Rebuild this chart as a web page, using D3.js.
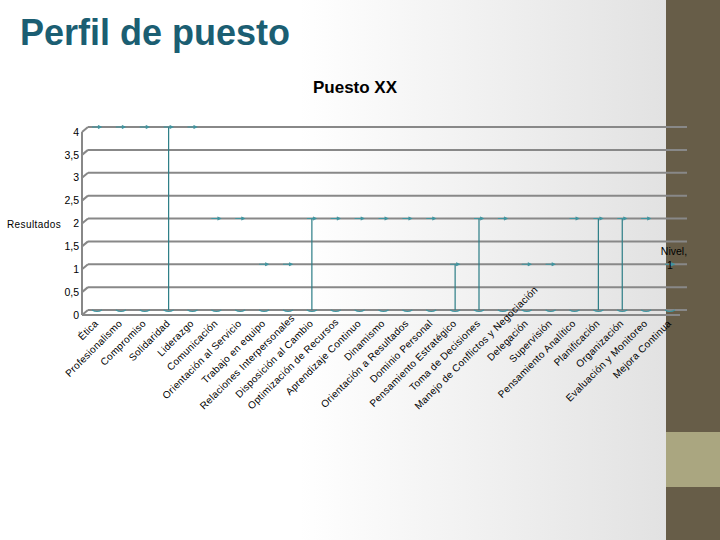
<!DOCTYPE html>
<html>
<head>
<meta charset="utf-8">
<script src="https://cdn.jsdelivr.net/npm/d3@7"></script>
<style>
  body { margin: 0; }
  svg { display: block; font-family: Arial, "Liberation Sans", sans-serif; }
</style>
</head>
<body>
<div id="chart"></div>
<script>
// Data
const categories = [
    'Ética', 'Profesionalismo', 'Compromiso', 'Solidaridad', 'Liderazgo',
    'Comunicación', 'Orientación al Servicio', 'Trabajo en equipo',
    'Relaciones Interpersonales', 'Disposición al Cambio', 'Optimización de Recursos',
    'Aprendizaje Continuo', 'Dinamismo', 'Orientación a Resultados', 'Dominio Personal',
    'Pensamiento Estratégico', 'Toma de Decisiones', 'Manejo de Conflictos y Negociación',
    'Delegación', 'Supervisión', 'Pensamiento Analítico', 'Planificación',
    'Organización', 'Evaluación y Monitoreo', 'Mejora Continua'
];
const nivel = [4, 4, 4, 4, 4, 2, 2, 1, 1, 2, 2, 2, 2, 2, 2, 1, 2, 2, 1, 1, 2, 2, 2, 2, 1];
// categories where a drop line shows from the floor up to the value
const dropLines = ['Solidaridad', 'Disposición al Cambio', 'Pensamiento Estratégico',
    'Toma de Decisiones', 'Planificación', 'Organización'];
const yTicks = [0, 0.5, 1, 1.5, 2, 2.5, 3, 3.5, 4];

const width = 720;
const height = 540;

const svg = d3.select('#chart')
    .append('svg')
    .attr('width', width)
    .attr('height', height);

// Background gradient
const defs = svg.append('defs');
const grad = defs.append('linearGradient')
    .attr('id', 'bg')
    .attr('x1', 0).attr('x2', 1).attr('y1', 0).attr('y2', 0);
grad.append('stop').attr('offset', '0%').attr('stop-color', '#ffffff');
grad.append('stop').attr('offset', '45%').attr('stop-color', '#ffffff');
grad.append('stop').attr('offset', '100%').attr('stop-color', '#e2e2e2');

svg.append('rect').attr('width', 666).attr('height', height).attr('fill', 'url(#bg)');
svg.append('rect').attr('x', 666).attr('width', 54).attr('height', height).attr('fill', '#675d48');
svg.append('rect').attr('x', 666).attr('y', 432).attr('width', 54).attr('height', 55).attr('fill', '#aaa680');

// Titles
svg.append('text')
    .attr('x', 20).attr('y', 45)
    .attr('font-size', 36).attr('font-weight', 'bold')
    .attr('fill', '#1b5e72')
    .text('Perfil de puesto');

svg.append('text')
    .attr('x', 355).attr('y', 93)
    .attr('text-anchor', 'middle')
    .attr('font-size', 17).attr('font-weight', 'bold')
    .text('Puesto XX');

// Scales
const x = d3.scalePoint()
    .domain(categories)
    .range([97, 670]);

const y = d3.scaleLinear()
    .domain([0, 4])
    .range([310, 127]);

const depth = 6; // 3D offset of the back wall
const gridColor = '#888888';

// Gridlines with 3D wall edge
const grid = svg.append('g')
    .attr('stroke', gridColor)
    .attr('stroke-width', 2);
grid.selectAll('line.grid')
    .data(yTicks)
    .enter()
    .append('line')
    .attr('class', 'grid')
    .attr('x1', 82 + depth).attr('x2', 687)
    .attr('y1', d => y(d)).attr('y2', d => y(d));
grid.selectAll('line.edge')
    .data(yTicks)
    .enter()
    .append('line')
    .attr('class', 'edge')
    .attr('x1', 82).attr('x2', 82 + depth)
    .attr('y1', d => y(d) + 5).attr('y2', d => y(d));
grid.append('line')
    .attr('x1', 82).attr('x2', 82)
    .attr('y1', y(4) + 5).attr('y2', y(0) + 5);
grid.append('line')
    .attr('x1', 82).attr('x2', 680)
    .attr('y1', y(0) + 5).attr('y2', y(0) + 5);

// Y axis labels
svg.append('g')
    .selectAll('text')
    .data(yTicks)
    .enter()
    .append('text')
    .attr('x', 79)
    .attr('y', d => y(d) + 5)
    .attr('dy', '0.35em')
    .attr('text-anchor', 'end')
    .attr('font-size', 10.5)
    .text(d => String(d).replace('.', ','));

svg.append('text')
    .attr('x', 7).attr('y', 228)
    .attr('font-size', 10)
    .attr('letter-spacing', 0.4)
    .text('Resultados');

// Drop lines
const points = categories.map((c, i) => ({ cat: c, value: nivel[i] }));

svg.append('g')
    .selectAll('line')
    .data(points.filter(d => dropLines.includes(d.cat)))
    .enter()
    .append('line')
    .attr('x1', d => x(d.cat)).attr('x2', d => x(d.cat))
    .attr('y1', y(0)).attr('y2', d => y(d.value))
    .attr('stroke', '#2b7d86').attr('stroke-width', 1.2);

// Markers at the value and on the floor
const marker = 'M-5,0H4M1,-1.5L4,0L1,1.5';
const markers = svg.append('g')
    .attr('fill', 'none')
    .attr('stroke', '#3f95a0')
    .attr('stroke-width', 1.2);
markers.selectAll('path.top')
    .data(points)
    .enter()
    .append('path')
    .attr('class', 'top')
    .attr('transform', d => `translate(${x(d.cat)},${y(d.value)})`)
    .attr('d', marker);
markers.selectAll('path.floor')
    .data(points)
    .enter()
    .append('path')
    .attr('class', 'floor')
    .attr('transform', d => `translate(${x(d.cat)},${y(0) + 1})`)
    .attr('d', 'M-5,-1Q0,2 5,-1');

// Series label on the last point
const last = points[points.length - 1];
svg.append('text')
    .attr('x', x(last.cat) + 4).attr('y', y(last.value) - 9)
    .attr('text-anchor', 'middle')
    .attr('font-size', 10.5)
    .text('Nivel,');
svg.append('text')
    .attr('x', x(last.cat)).attr('y', y(last.value) + 5)
    .attr('text-anchor', 'middle')
    .attr('font-size', 10.5)
    .text(last.value);

// Rotated category labels
const labels = svg.append('g')
    .selectAll('text')
    .data(categories)
    .enter()
    .append('text')
    .attr('text-anchor', 'end')
    .attr('font-size', 10)
    .attr('letter-spacing', 0.3)
    .text(d => d);

labels.each(function (d) {
    const len = this.getComputedTextLength();
    const k = len / Math.SQRT2;
    let ex = x(d) + 2;
    let ey = 324;
    const over = ey + k - 410;
    if (over > 0) { ex += over; ey -= over; }
    d3.select(this).attr('transform', `translate(${ex},${ey}) rotate(-45)`);
});
</script>
</body>
</html>
